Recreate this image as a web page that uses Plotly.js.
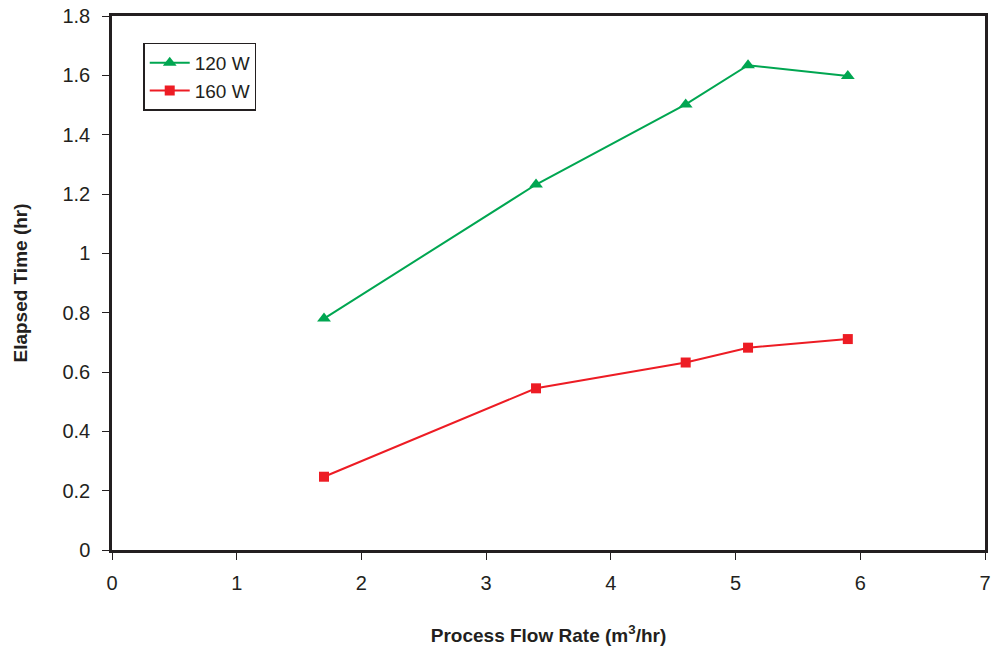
<!DOCTYPE html>
<html><head><meta charset="utf-8">
<script src="https://cdn.plot.ly/plotly-3.0.1.min.js"></script>
<style>body{margin:0;background:#fff}#c{width:997px;height:655px}</style>
</head><body><div id="c"></div>
<script>
var flowRate = [1.7, 3.4, 4.6, 5.1, 5.9];
var time120 = [0.78, 1.232, 1.502, 1.634, 1.598];
var time160 = [0.247, 0.545, 0.632, 0.682, 0.711];
var seriesNames = ['120 W', '160 W'];

var fontFam = '"Liberation Sans Narrow", "Liberation Sans", Arial, sans-serif';
var traces = [
  {x: flowRate, y: time120, name: seriesNames[0], mode: 'lines+markers', type: 'scatter',
   line: {color: '#00a651', width: 2}, marker: {symbol: 'triangle-up', size: 12, color: '#00a651'}},
  {x: flowRate, y: time160, name: seriesNames[1], mode: 'lines+markers', type: 'scatter',
   line: {color: '#ed1c24', width: 2}, marker: {symbol: 'square', size: 10, color: '#ed1c24'}}
];
var layout = {
  width: 997, height: 655,
  margin: {l: 112, r: 12, t: 16, b: 105},
  paper_bgcolor: '#fff', plot_bgcolor: '#fff',
  font: {family: fontFam, size: 20, color: '#231f20'},
  showlegend: true,
  legend: {x: 0.036, y: 0.95, xanchor: 'left', yanchor: 'top', bordercolor: '#231f20', borderwidth: 1.3,
           bgcolor: '#fff', font: {size: 19, family: fontFam, color: '#231f20'}, tracegroupgap: 0, itemwidth: 40},
  xaxis: {range: [0, 7], dtick: 1, showgrid: false, zeroline: false, showline: true, linecolor: '#231f20', linewidth: 2.5,
          mirror: true, ticks: 'outside', ticklen: 7, tickwidth: 1.3, tickcolor: '#231f20', ticklabelstandoff: 6,
          tickfont: {size: 20, family: fontFam, color: '#231f20'},
          title: {text: '<b>Process Flow Rate (m<sup>3</sup>/hr)</b>', font: {size: 19, family: fontFam, color: '#231f20'}, standoff: 36}},
  yaxis: {range: [0, 1.8], dtick: 0.2, showgrid: false, zeroline: false, showline: true, linecolor: '#231f20', linewidth: 2.5,
          mirror: true, ticks: 'outside', ticklen: 7, tickwidth: 1.3, tickcolor: '#231f20', ticklabelstandoff: 8,
          tickfont: {size: 20, family: fontFam, color: '#231f20'},
          title: {text: '<b>Elapsed Time (hr)</b>', font: {size: 19, family: fontFam, color: '#231f20'}, standoff: 30}}
};
Plotly.newPlot('c', traces, layout, {displayModeBar: false});
</script></body></html>
